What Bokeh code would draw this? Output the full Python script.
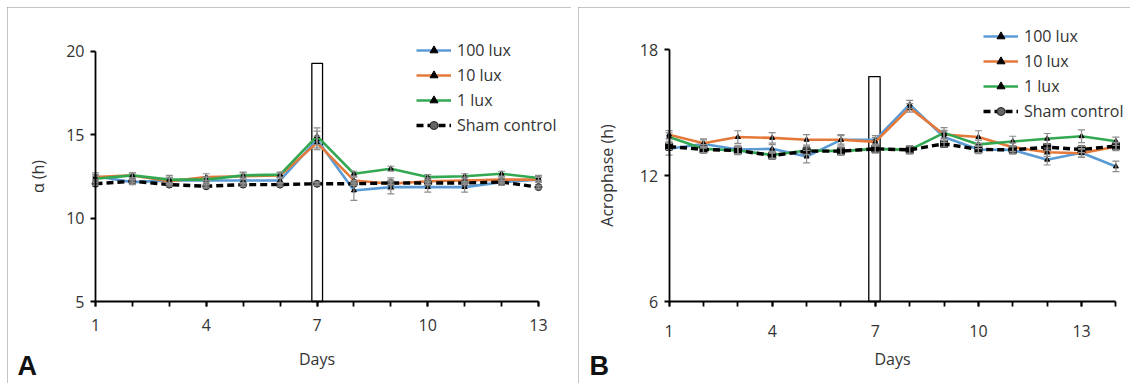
from bokeh.plotting import figure
from bokeh.models import (ColumnDataSource, Whisker, TeeHead, Legend, LegendItem,
                          FixedTicker, Label, Spacer)
from bokeh.layouts import row, column
from bokeh.embed import file_html
from bokeh.resources import INLINE

# ---------------- data ----------------
days_A = list(range(1, 14))
alpha_100 = [12.5, 12.15, 12.25, 12.25, 12.25, 12.25, 14.7, 11.65, 11.85, 11.85, 11.85, 12.15, 12.3]
alpha_10 = [12.45, 12.55, 12.2, 12.45, 12.5, 12.55, 14.5, 12.25, 12.05, 12.2, 12.25, 12.3, 12.3]
alpha_1 = [12.35, 12.55, 12.3, 12.3, 12.55, 12.6, 14.9, 12.65, 12.95, 12.45, 12.5, 12.65, 12.4]
alpha_sham = [12.05, 12.2, 12.0, 11.9, 12.0, 12.0, 12.05, 12.05, 12.1, 12.1, 12.1, 12.15, 11.85]
err_alpha_100 = [0.2, 0.15, 0.2, 0.2, 0.2, 0.15, 0.5, 0.6, 0.4, 0.3, 0.3, 0.2, 0.15]
err_alpha_10 = [0.15, 0.15, 0.2, 0.2, 0.2, 0.15, 0.4, 0.2, 0.35, 0.2, 0.2, 0.15, 0.15]
err_alpha_1 = [0.15, 0.15, 0.25, 0.15, 0.2, 0.15, 0.5, 0.15, 0.15, 0.15, 0.15, 0.15, 0.15]
err_alpha_sham = [0.1] * 13

days_B = list(range(1, 15))
acro_100 = [13.27, 13.5, 13.24, 13.27, 12.9, 13.7, 13.7, 15.38, 13.83, 13.24, 13.22, 12.75, 13.08, 12.43]
acro_10 = [13.94, 13.54, 13.83, 13.79, 13.7, 13.7, 13.6, 15.22, 13.95, 13.83, 13.35, 13.11, 13.06, 13.38]
acro_1 = [13.83, 13.27, 13.19, 12.98, 13.19, 13.16, 13.27, 13.22, 14.03, 13.48, 13.62, 13.75, 13.87, 13.63]
acro_sham = [13.38, 13.24, 13.19, 12.95, 13.16, 13.16, 13.27, 13.22, 13.51, 13.24, 13.22, 13.35, 13.24, 13.4]
err_acro_100 = [0.3, 0.2, 0.2, 0.2, 0.3, 0.2, 0.2, 0.2, 0.25, 0.2, 0.2, 0.25, 0.2, 0.25]
err_acro_10 = [0.2, 0.2, 0.3, 0.25, 0.25, 0.25, 0.2, 0.2, 0.2, 0.3, 0.2, 0.2, 0.2, 0.2]
err_acro_1 = [0.2, 0.2, 0.2, 0.15, 0.2, 0.2, 0.2, 0.2, 0.25, 0.2, 0.25, 0.25, 0.3, 0.2]
err_acro_sham = [0.15] * 14

series_names = ["100 lux", "10 lux", "1 lux", "Sham control"]
tick_labels_x = [1, 4, 7, 10, 13]
yticks_A = [5, 10, 15, 20]
yticks_B = [6, 12, 18]
# exposure bar (day 7): left, right, top
bar_A = [6.86, 7.15, 19.26]
bar_B = [6.81, 7.14, 16.71]

COLORS = ["#5b9bd5", "#e5793a", "#33a853"]
FONT = "Open Sans"
TXT = "#333333"


def make_panel(days, ys, errs, ylim, yticks, bar, size, frame_px, ylabel, letter,
               sham_marker, legend_loc, xlab_stand, xlabel_stand, ylab_stand, letter_x):
    W, H = size
    # frame_px: pixel positions (x of first day, x of last day, y of top tick, y of bottom tick)
    px_x0, px_x1, px_ytop, px_ybot = frame_px
    d0, d1 = days[0], days[-1]
    kx = (px_x1 - px_x0) / (d1 - d0)
    xr = (d0 - px_x0 / kx, d0 + (W - px_x0) / kx)
    ky = (px_ybot - px_ytop) / (ylim[1] - ylim[0])
    yr = (ylim[0] - (H - px_ybot) / ky, ylim[1] + px_ytop / ky)

    p = figure(width=W, height=H, output_backend="svg", toolbar_location=None,
               x_range=xr, y_range=yr, min_border=0,
               min_border_left=0, min_border_right=0,
               min_border_top=0, min_border_bottom=0)
    p.styles = {"outline": "1px solid #8a8a8a", "outline-offset": "-1px"}
    p.outline_line_color = None
    p.grid.visible = False
    p.background_fill_color = "white"
    p.border_fill_color = "white"

    # exposure bar
    p.quad(left=[bar[0]], right=[bar[1]], bottom=[ylim[0]], top=[bar[2]],
           fill_color="white", fill_alpha=0.0, line_color="black", line_width=1.3)

    # error bars
    for y, e in zip(ys, errs):
        src = ColumnDataSource(dict(x=days, up=[a + b for a, b in zip(y, e)],
                                    lo=[a - b for a, b in zip(y, e)]))
        w = Whisker(base="x", upper="up", lower="lo", source=src,
                    line_color="#8c8c8c", line_width=1.2, level="glyph",
                    upper_head=TeeHead(size=7, line_color="#8c8c8c", line_width=1.2),
                    lower_head=TeeHead(size=7, line_color="#8c8c8c", line_width=1.2))
        p.add_layout(w)

    items = []
    for i in range(3):
        lr = p.line(days, ys[i], line_color=COLORS[i], line_width=2.6)
        sr = p.scatter(days, ys[i], marker="triangle", size=5, fill_color="black",
                       line_color="black")
        items.append(LegendItem(label=series_names[i], renderers=[lr, sr]))

    lr = p.line(days, ys[3], line_color="black", line_width=3.4, line_dash="7 4")
    if sham_marker == "circle":
        sr = p.scatter(days, ys[3], marker="circle", size=7, fill_color="#666666",
                       line_color="#222222", line_width=1)
        leg_r = sr
    else:
        p.scatter(days, ys[3], marker="square", size=7, fill_color="black",
                  line_color="black")
        leg_r = p.scatter([float("nan")], [float("nan")], marker="circle", size=6,
                          fill_color="#666666", line_color="#222222")
    items.append(LegendItem(label=series_names[3], renderers=[lr, leg_r]))

    leg = Legend(items=items, location=legend_loc, border_line_color=None,
                 background_fill_alpha=0.0, padding=0, margin=0, spacing=3,
                 glyph_width=35, glyph_height=20, label_height=20,
                 label_standoff=6, label_text_font=FONT, label_text_font_size="16px",
                 label_text_color=TXT)
    p.add_layout(leg)

    # axes, pinned at data locations and bounded to the data span
    p.xaxis.fixed_location = ylim[0]
    p.yaxis.fixed_location = d0
    p.xaxis.bounds = (d0, d1)
    p.yaxis.bounds = (ylim[0], ylim[1])
    p.xaxis.ticker = FixedTicker(ticks=tick_labels_x, minor_ticks=days)
    p.yaxis.ticker = FixedTicker(ticks=yticks, minor_ticks=[])
    for ax in (p.xaxis[0], p.yaxis[0]):
        ax.axis_line_color = "black"
        ax.axis_line_width = 1.8
        ax.major_tick_line_color = "black"
        ax.major_tick_line_width = 1.8
        ax.minor_tick_line_color = "black"
        ax.minor_tick_line_width = 1.8
        ax.major_tick_in = 0
        ax.major_tick_out = 5
        ax.minor_tick_in = 0
        ax.minor_tick_out = 5
        ax.major_label_text_font = FONT
        ax.major_label_text_font_size = "16px"
        ax.major_label_text_color = TXT
        ax.axis_label_text_font = FONT
        ax.axis_label_text_font_size = "16px"
        ax.axis_label_text_font_style = "normal"
        ax.axis_label_text_color = TXT
    p.yaxis.minor_tick_out = 0
    p.xaxis.axis_label = "Days"
    p.yaxis.axis_label = ylabel
    p.xaxis.major_label_standoff = xlab_stand
    p.xaxis.axis_label_standoff = xlabel_stand
    p.yaxis.major_label_standoff = 6
    p.yaxis.axis_label_standoff = ylab_stand

    p.add_layout(Label(x=letter_x, y=18, x_units="screen", y_units="screen",
                       text=letter, text_font="Liberation Sans",
                       text_font_style="bold", text_font_size="27px",
                       text_color="#111111", text_baseline="alphabetic"))
    return p


pA = make_panel(days_A, [alpha_100, alpha_10, alpha_1, alpha_sham],
                [err_alpha_100, err_alpha_10, err_alpha_1, err_alpha_sham],
                (5, 20), yticks_A, bar_A, (564, 376), (88, 531, 43.5, 294),
                "\u03b1 (h)", "A", "circle", (409, 247), 12, 14, 14, 10)
pB = make_panel(days_B, [acro_100, acro_10, acro_1, acro_sham],
                [err_acro_100, err_acro_10, err_acro_1, err_acro_sham],
                (6, 18), yticks_B, bar_B, (552, 376), (90.6, 537.4, 42, 294),
                "Acrophase (h)", "B", "square", (405, 261), 18, 8, 19, 11)

layout = column(Spacer(height=7),
                row(Spacer(width=7), pA, Spacer(width=7), pB, spacing=0),
                spacing=0)
open("out.html", "w").write(file_html(layout, INLINE))
